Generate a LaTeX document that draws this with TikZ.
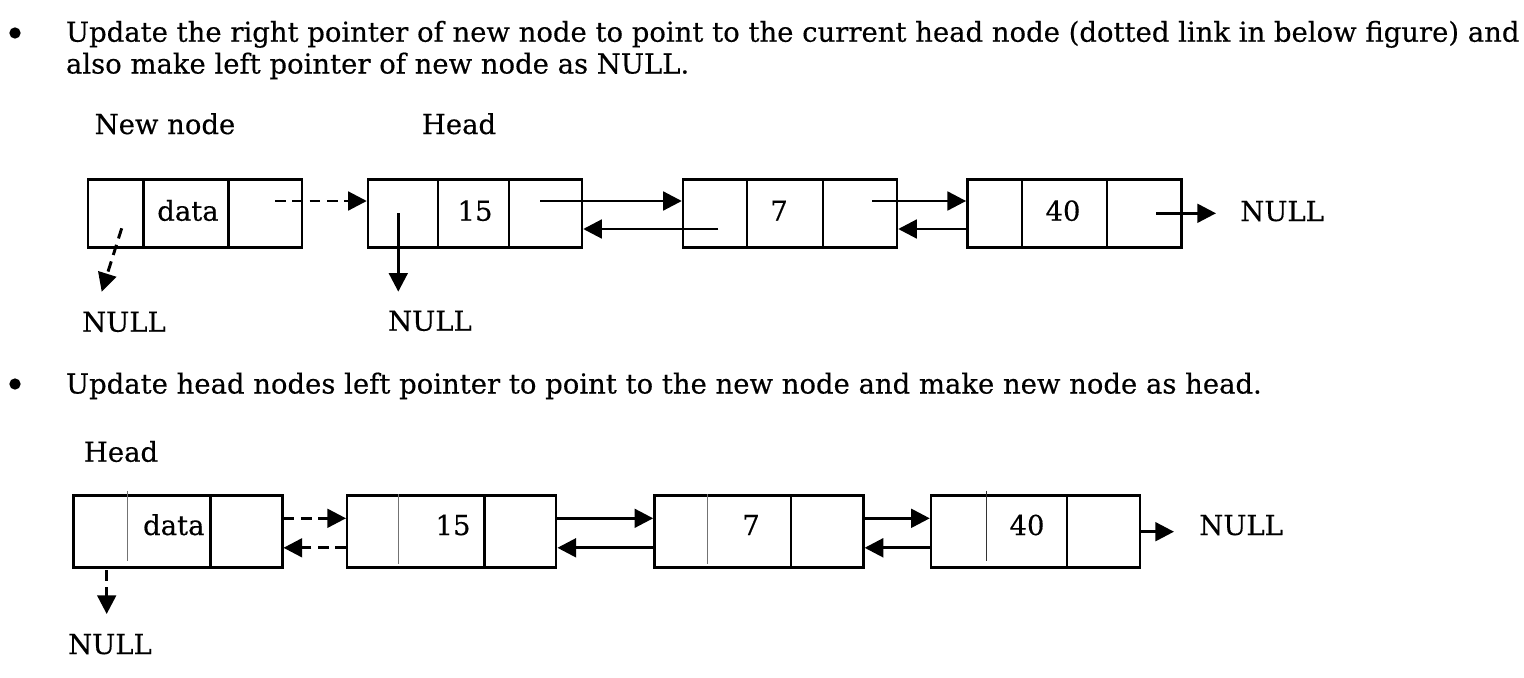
\documentclass[tikz,border=0pt]{standalone}
\usepackage{fontspec}
\setmainfont[FakeBold=0.4]{DejaVu Serif}
\usetikzlibrary{arrows.meta,calc}
\tikzset{
  box/.style={draw, line width=1.8pt, inner sep=0pt},
  boxA/.style={box, minimum width=160.5pt, minimum height=51pt},
  boxB/.style={box, minimum width=156.75pt, minimum height=54pt},
  txt/.style={inner sep=0pt, anchor=base, font=\fontsize{20.6pt}{24pt}\selectfont},
  ltxt/.style={txt, anchor=base west},
  divider/.style={line width=1.8pt},
  thindiv/.style={line width=0.7pt, draw=black!55},
  ptr/.style={line width=2.2pt, -{Triangle[length=14pt,width=14pt]}},
  dptr/.style={ptr, dash pattern=on 8pt off 5pt},
  bullet/.style={circle, fill=black, inner sep=0pt, minimum size=8.5pt}
}
\begin{document}
\begin{tikzpicture}[x=0.75pt,y=-0.75pt]
\fill[white] (0,0) rectangle (1524,678);
\useasboundingbox (0,0) rectangle (1524,678);

% ---- text block 1
\node[bullet] (b1) at (15,33) {};
\node[ltxt] (t1) at (65.7,41.7) {Update the right pointer of new node to point to the current head node (dotted link in below figure) and};
\node[ltxt] (t2) at (65.7,73.5) {also make left pointer of new node as NULL.};
\node[txt] (lnew) at (165,134) {New node};
\node[txt] (lhead) at (459,134) {Head};

% ---- row 1 boxes
\node[boxA] (A) at (195,213.5) {};
\node[boxA] (B) at (475,213.5) {};
\node[boxA] (C) at (790,213.5) {};
\node[boxA] (D) at (1074.3,213.5) {};
\draw[divider] ($(A.north west)+(56.5,0)$) -- ($(A.south west)+(56.5,0)$)
               ($(A.north west)+(141.5,0)$) -- ($(A.south west)+(141.5,0)$);
\draw[divider] ($(B.north west)+(71,0)$) -- ($(B.south west)+(71,0)$)
               ($(B.north west)+(142,0)$) -- ($(B.south west)+(142,0)$);
\draw[divider] ($(C.north west)+(65.3,0)$) -- ($(C.south west)+(65.3,0)$)
               ($(C.north west)+(141,0)$) -- ($(C.south west)+(141,0)$);
\draw[divider] ($(D.north west)+(55.7,0)$) -- ($(D.south west)+(55.7,0)$)
               ($(D.north west)+(140.7,0)$) -- ($(D.south west)+(140.7,0)$);

\node[txt] (Ad) at (188,220.7) {data};
\node[txt] (Bd) at (475,220.7) {15};
\node[txt] (Cd) at (779,220.7) {7};
\node[txt] (Dd) at (1063,220.7) {40};
\node[ltxt] (nD) at (1240,221) {NULL};
\node[txt] (nA) at (124,331.7) {NULL};
\node[txt] (nB) at (430,330.7) {NULL};

\coordinate (a1) at (275,201);
\coordinate (a2) at (121.7,228.3);
\coordinate (a2e) at (101.7,291.7);
\coordinate (b1s) at (398.3,213.3);
\coordinate (b1e) at (398.3,291.7);
\coordinate (b2) at (540,201);
\coordinate (c1) at (718.3,229);
\coordinate (c2) at (872.3,201);
\coordinate (d1) at (967,229);
\coordinate (d2) at (1156,213.3);
\coordinate (d2e) at (1216,213.3);

\draw[dptr] (a1) -- (B.west |- a1);
\draw[dptr] (a2) -- (a2e);
\draw[ptr] (b1s) -- (b1e);
\draw[ptr] (b2) -- (C.west |- b2);
\draw[ptr] (c1) -- (B.east |- c1);
\draw[ptr] (c2) -- (D.west |- c2);
\draw[ptr] (D.west |- d1) -- (C.east |- d1);
\draw[ptr] (d2) -- (d2e);

% ---- text block 2
\node[bullet] (b2b) at (15,384) {};
\node[ltxt] (t3) at (65.7,393.5) {Update head nodes left pointer to point to the new node and make new node as head.};
\node[txt] (lhead2) at (121,461.7) {Head};

% ---- row 2 boxes
\node[boxB] (P) at (177.8,531.5) {};
\node[boxB] (Q) at (451.7,531.5) {};
\node[boxB] (R) at (758.9,531.5) {};
\node[boxB] (S) at (1035.5,531.5) {};

\draw[thindiv] ($(P.north west)+(55.7,-3.5)$) -- ($(P.south west)+(55.7,-7.5)$);
\draw[divider] ($(P.north west)+(138.4,0)$) -- ($(P.south west)+(138.4,0)$);
\draw[thindiv] ($(Q.north west)+(52.6,0)$) -- ($(Q.south west)+(52.6,-4.5)$);
\draw[divider] ($(Q.north west)+(138.3,0)$) -- ($(Q.south west)+(138.3,0)$);
\draw[thindiv] ($(R.north west)+(54.3,0)$) -- ($(R.south west)+(54.3,-4.5)$);
\draw[divider] ($(R.north west)+(137.6,0)$) -- ($(R.south west)+(137.6,0)$);
\draw[thindiv, draw=black!80] ($(S.north west)+(56.5,-3.5)$) -- ($(S.south west)+(56.5,-7.5)$);
\draw[divider] ($(S.north west)+(137.4,0)$) -- ($(S.south west)+(137.4,0)$);

\node[txt] (Pd) at (173.8,535) {data};
\node[txt] (Qd) at (453,535) {15};
\node[txt] (Rd) at (751,535) {7};
\node[txt] (Sd) at (1027,535) {40};
\node[ltxt] (nS) at (1199,535) {NULL};
\node[txt] (nP) at (110,654) {NULL};

\coordinate (up) at (0,518.3);
\coordinate (lo) at (0,547.8);
\coordinate (s2) at (0,531.7);
\coordinate (s2e) at (1174,531.7);
\coordinate (p1) at (106.7,570);
\coordinate (p1e) at (106.7,614);

\draw[dptr] (P.east |- up) -- (Q.west |- up);
\draw[dptr] (Q.west |- lo) -- (P.east |- lo);
\draw[ptr] (Q.east |- up) -- (R.west |- up);
\draw[ptr] (R.west |- lo) -- (Q.east |- lo);
\draw[ptr] (R.east |- up) -- (S.west |- up);
\draw[ptr] (S.west |- lo) -- (R.east |- lo);
\draw[ptr] (S.east |- s2) -- (s2e);
\draw[dptr] (p1) -- (p1e);
\end{tikzpicture}
\end{document}
